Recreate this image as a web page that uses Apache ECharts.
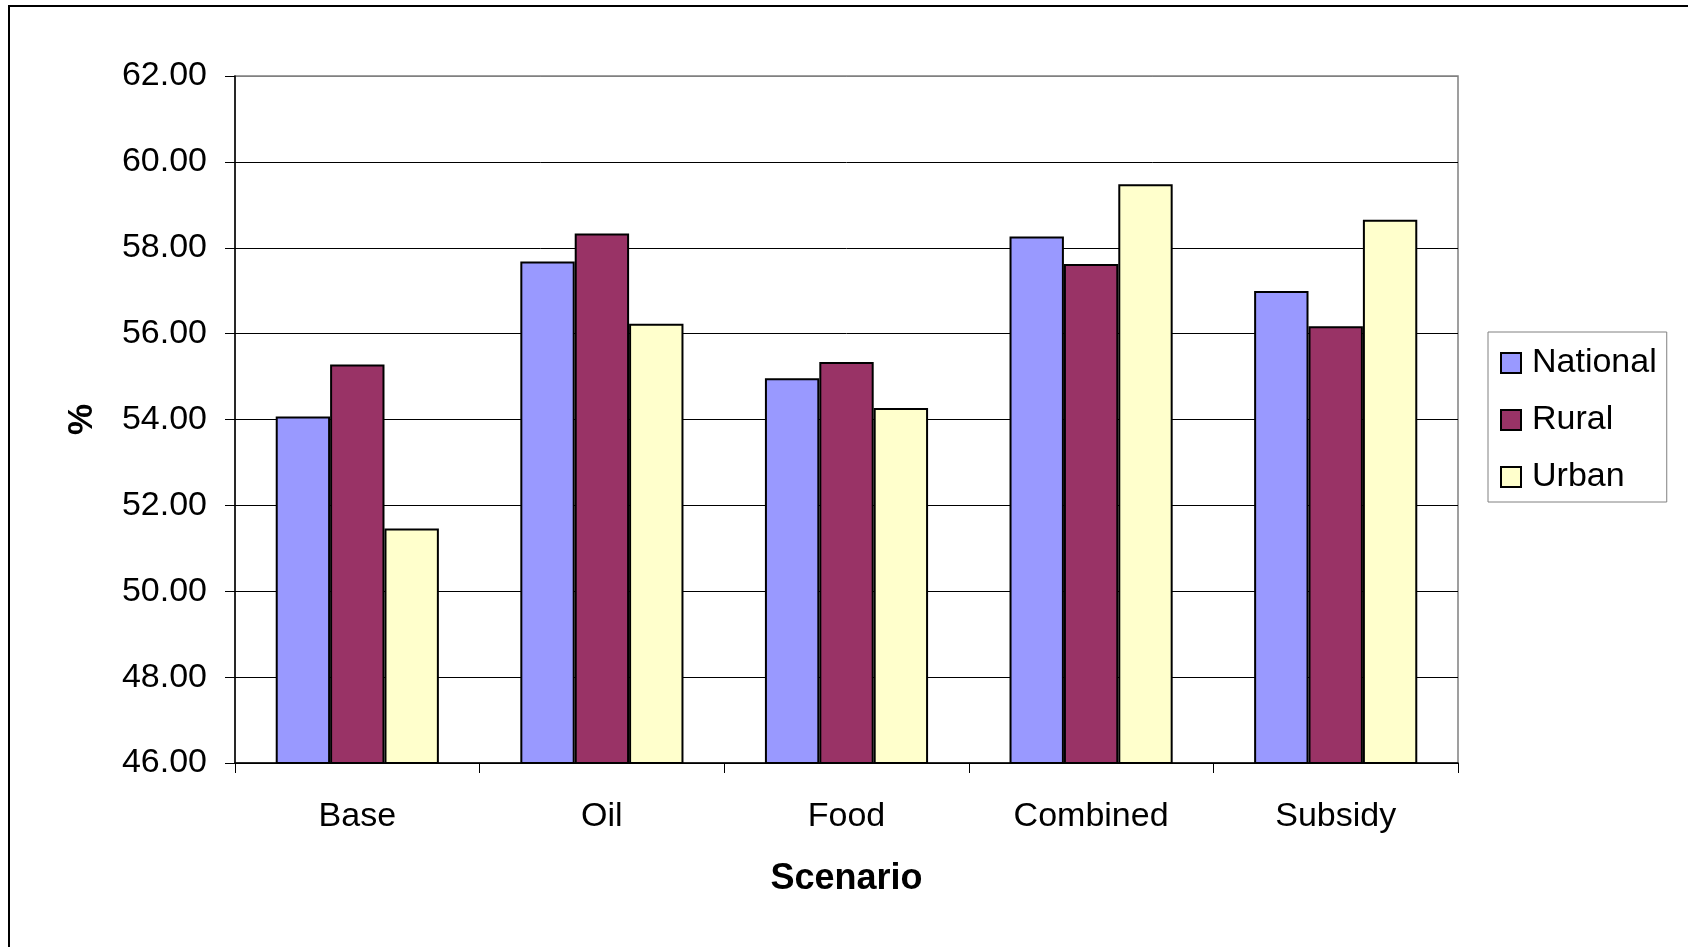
<!DOCTYPE html>
<html>
<head>
<meta charset="utf-8">
<script src="https://cdn.jsdelivr.net/npm/echarts@6/dist/echarts.min.js"></script>
<style>
  html, body { margin: 0; padding: 0; background: #fff; }
  #chart { width: 1688px; height: 947px; }
</style>
</head>
<body>
<div id="chart"></div>
<script>
// Scenario results (%) by population group
const scenarios = ['Base', 'Oil', 'Food', 'Combined', 'Subsidy'];
const national = [54.07, 57.68, 54.96, 58.26, 56.99];
const rural    = [55.28, 58.33, 55.34, 57.62, 56.17];
const urban    = [51.46, 56.23, 54.27, 59.48, 58.65];
const yMin = 46, yMax = 62, yStep = 2;

const FONT = '"Liberation Sans", Arial, sans-serif';
const barBorder = { borderColor: '#000', borderWidth: 2 };

function barSeries(name, data, color) {
  return {
    name: name,
    type: 'bar',
    data: data,
    barGap: '0%',
    barCategoryGap: '33.3%',
    itemStyle: Object.assign({ color: color }, barBorder)
  };
}

// gridlines are black, the top one merges into the grey plot frame
const gridLineColors = ['#000', '#000', '#000', '#000', '#000', '#000', '#000', '#000', '#808080'];

const chart = echarts.init(document.getElementById('chart'), null, { renderer: 'canvas' });
chart.setOption({
  animation: false,
  backgroundColor: '#fff',
  textStyle: { fontFamily: FONT },
  graphic: [{
    type: 'rect',
    shape: { x: 9, y: 6, width: 1700, height: 960 },
    style: { fill: 'none', stroke: '#000', lineWidth: 2 },
    silent: true,
    z: -10
  }],
  grid: {
    left: 235, top: 76, width: 1223, height: 687,
    show: true, borderColor: '#808080', borderWidth: 1.5,
    containLabel: false
  },
  legend: {
    orient: 'vertical',
    left: 1488, top: 332,
    width: 180,
    padding: [12, 10, 6, 12],
    itemGap: 19,
    itemWidth: 20, itemHeight: 20,
    borderColor: '#808080', borderWidth: 1,
    icon: 'rect',
    itemStyle: { borderColor: '#000', borderWidth: 2 },
    textStyle: { fontFamily: FONT, fontSize: 34, color: '#000', lineHeight: 38, padding: [0, 0, 0, 6] },
    data: ['National', 'Rural', 'Urban']
  },
  xAxis: {
    type: 'category',
    data: scenarios,
    name: 'Scenario',
    nameLocation: 'middle',
    nameGap: 98,
    nameTextStyle: { fontFamily: FONT, fontSize: 36, fontWeight: 'bold', color: '#000' },
    axisLine: { lineStyle: { color: '#000', width: 1.5 } },
    axisTick: { show: true, length: 10, alignWithLabel: false, lineStyle: { color: '#000' } },
    axisLabel: { fontFamily: FONT, fontSize: 34, color: '#000', margin: 37 },
    splitLine: { show: false }
  },
  yAxis: {
    type: 'value',
    min: yMin, max: yMax, interval: yStep,
    name: '%',
    nameLocation: 'middle',
    nameGap: 135,
    nameRotate: 90,
    nameTextStyle: { fontFamily: FONT, fontSize: 35, fontWeight: 'bold', color: '#000' },
    axisLine: { show: true, lineStyle: { color: '#000', width: 1.5 } },
    axisTick: { show: true, length: 10, lineStyle: { color: '#000' } },
    axisLabel: {
      fontFamily: FONT, fontSize: 34, color: '#000', margin: 28,
      formatter: v => v.toFixed(2)
    },
    splitLine: { show: true, lineStyle: { color: gridLineColors, width: 1 } }
  },
  series: [
    barSeries('National', national, '#9999FF'),
    barSeries('Rural', rural, '#993366'),
    barSeries('Urban', urban, '#FFFFCC')
  ]
});
</script>
</body>
</html>
